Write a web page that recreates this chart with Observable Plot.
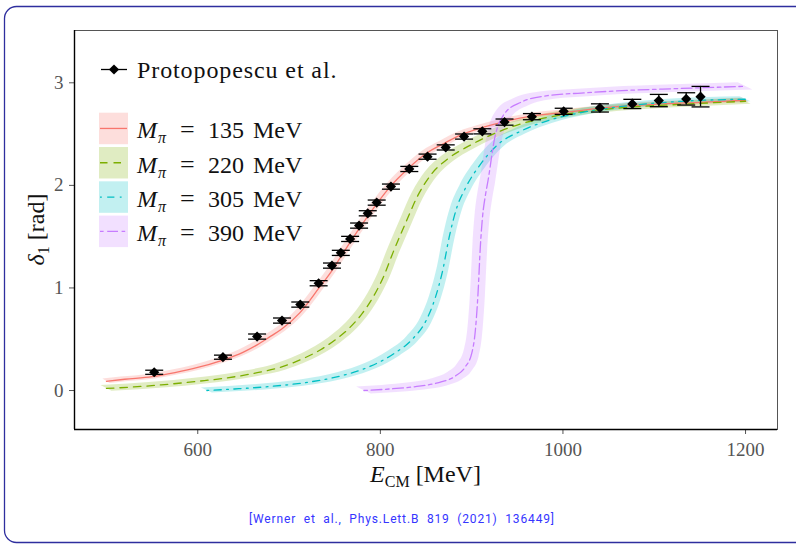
<!DOCTYPE html>
<html><head><meta charset="utf-8">
<script src="https://cdn.jsdelivr.net/npm/d3@7"></script>
<script src="https://cdn.jsdelivr.net/npm/@observablehq/plot@0.6"></script>
<style>
html,body{margin:0;padding:0;background:#fff;}
#chart{position:relative;width:796px;height:545px;overflow:hidden;}
</style></head><body><div id="chart"></div>
<script>
// ---- data ----
const xTicks = [600, 800, 1000, 1200];
const yTicks = [0, 1, 2, 3];
const pionMasses = ["135", "220", "305", "390"];
const seriesColors = ["#F8766D", "#7CAE00", "#00BFC4", "#C77CFF"];
const seriesDashes = ["none", "7.5,6", "1.8,5.4,7.2,5.4", "3.6,3.6,10.8,3.6"];
const dataLabel = "Protopopescu et al.";
const captionText = "[Werner  et  al.,  Phys.Lett.B  819  (2021)  136449]";

// Protopopescu et al. measurements
const dataE     = [552.3, 627.6, 665, 692.3, 712.3, 732.4, 747, 756.7, 766.9, 776.7, 786.2, 796, 811.6, 831.7, 851.7, 871.6, 891.7, 911.7, 936, 966, 1000.8, 1040.5, 1076, 1105, 1135, 1150.7];
const dataDelta = [0.178, 0.325, 0.526, 0.682, 0.838, 1.046, 1.218, 1.342, 1.478, 1.608, 1.728, 1.832, 1.988, 2.16, 2.28, 2.37, 2.476, 2.527, 2.617, 2.67, 2.722, 2.755, 2.794, 2.827, 2.843, 2.865];
const dataErr   = [0.02, 0.02, 0.025, 0.025, 0.025, 0.025, 0.025, 0.025, 0.025, 0.025, 0.025, 0.025, 0.025, 0.025, 0.025, 0.025, 0.025, 0.025, 0.03, 0.03, 0.03, 0.04, 0.045, 0.06, 0.06, 0.10];

// M_pi = 135 MeV
const e135 = [500, 520, 550, 575, 600, 625, 650, 665, 680, 692, 712, 732, 747, 760, 777, 796, 812, 830, 850, 870, 890, 910, 935, 965, 1000, 1050, 1100, 1150, 1200];
const d135 = [0.09, 0.11, 0.135, 0.175, 0.225, 0.29, 0.375, 0.445, 0.53, 0.60, 0.76, 0.99, 1.17, 1.35, 1.58, 1.82, 2.00, 2.16, 2.31, 2.41, 2.50, 2.56, 2.62, 2.675, 2.71, 2.76, 2.79, 2.81, 2.83];
// M_pi = 220 MeV
const e220 = [500, 530, 560, 600, 630, 660, 690, 715, 735, 750, 765, 780, 792, 803, 815, 828, 841, 856, 874, 896, 921, 954, 1000, 1056, 1129, 1200];
const d220 = [0.02, 0.035, 0.055, 0.09, 0.12, 0.165, 0.225, 0.31, 0.40, 0.49, 0.60, 0.75, 0.91, 1.10, 1.37, 1.64, 1.90, 2.11, 2.26, 2.38, 2.49, 2.60, 2.69, 2.75, 2.79, 2.82];
// M_pi = 305 MeV
const e305 = [610, 640, 680, 720, 760, 790, 815, 835, 850, 860, 868, 876, 884, 893, 910, 929, 954, 983, 1020, 1056, 1130, 1200];
const d305 = [0.0, 0.015, 0.04, 0.08, 0.15, 0.24, 0.36, 0.50, 0.68, 0.90, 1.16, 1.52, 1.79, 1.97, 2.21, 2.40, 2.53, 2.63, 2.71, 2.76, 2.82, 2.84];
// M_pi = 390 MeV
const e390 = [782, 810, 840, 865, 882, 893, 900, 904, 907, 909.5, 912, 915, 918, 925, 936, 954, 983, 1020, 1056, 1130, 1200];
const d390 = [0.0, 0.015, 0.04, 0.08, 0.14, 0.23, 0.36, 0.58, 0.95, 1.40, 1.70, 1.90, 2.05, 2.45, 2.70, 2.81, 2.875, 2.90, 2.92, 2.945, 2.966];
// uncertainty band half-widths (energy, phase)
const bandDE = [4, 6, 6, 8];
const bandDD = [0.022, 0.028, 0.025, 0.035];

// ---- build ----
const xDomain = [465, 1235];
const yDomain = [-0.38, 3.51];
const curves = [[e135, d135], [e220, d220], [e305, d305], [e390, d390]];
const serif = "'Liberation Serif', 'Times New Roman', serif";

const marks = [];
curves.forEach(([E, D], i) => {
  const rows = E.map((x, j) => ({E: x, d: D[j]}));
  marks.push(Plot.area(rows, {
    x1: r => r.E + bandDE[i], y1: r => r.d - bandDD[i],
    x2: r => r.E - bandDE[i], y2: r => r.d + bandDD[i],
    fill: seriesColors[i], fillOpacity: 0.24, curve: "monotone-x", clip: true
  }));
});
curves.forEach(([E, D], i) => {
  const rows = E.map((x, j) => ({E: x, d: D[j]}));
  marks.push(Plot.line(rows, {
    x: "E", y: "d", stroke: seriesColors[i], strokeWidth: 1.3,
    strokeDasharray: seriesDashes[i], curve: "monotone-x"
  }));
});
const pts = dataE.map((x, j) => ({E: x, d: dataDelta[j], err: dataErr[j]}));
const capSymbol = {draw(ctx) { ctx.moveTo(-9, 0); ctx.lineTo(9, 0); }};
marks.push(
  Plot.ruleX(pts, {x: "E", y1: r => r.d - r.err, y2: r => r.d + r.err, stroke: "black", strokeWidth: 1.3}),
  Plot.dot(pts, {x: "E", y: r => r.d - r.err, symbol: capSymbol, r: 1, fill: "none", stroke: "black", strokeWidth: 1.3}),
  Plot.dot(pts, {x: "E", y: r => r.d + r.err, symbol: capSymbol, r: 1, fill: "none", stroke: "black", strokeWidth: 1.3}),
  Plot.dot(pts, {x: "E", y: "d", symbol: "diamond2", r: 4.6, fill: "black", stroke: "none"}),
  Plot.frame({stroke: "#555", strokeWidth: 1}),
  Plot.ruleX([xDomain[0]], {stroke: "black", strokeWidth: 1.4}),
  Plot.ruleY([yDomain[0]], {stroke: "black", strokeWidth: 1.4})
);

const svg = Plot.plot({
  width: 796, height: 545,
  marginLeft: 74, marginRight: 19, marginTop: 30, marginBottom: 116,
  style: {fontFamily: serif, fontSize: "19px", background: "white", color: "#555"},
  x: {domain: xDomain, ticks: xTicks, tickSize: 5, tickPadding: 8, label: null, tickFormat: d3.format("d")},
  y: {domain: yDomain, ticks: yTicks, tickSize: 5, tickPadding: 6, label: null, tickFormat: d3.format("d")},
  marks
});

const s = d3.select(svg);

// border
s.append("rect").attr("x", 4.5).attr("y", 6.5).attr("width", 830).attr("height", 536)
  .attr("rx", 12).attr("fill", "none").attr("stroke", "#2e2e9e").attr("stroke-width", 1.3);

// legend
const lg = s.append("g").attr("font-family", serif).attr("fill", "#111").attr("text-anchor", "start");
lg.append("line").attr("x1", 101).attr("x2", 127).attr("y1", 69.5).attr("y2", 69.5)
  .attr("stroke", "black").attr("stroke-width", 1.3);
lg.append("path").attr("d", d3.symbol(d3.symbolDiamond2, Math.PI * 4.6 * 4.6)())
  .attr("transform", "translate(114,69.5)").attr("fill", "black");
lg.append("text").attr("x", 137).attr("y", 78).attr("font-size", 24)
  .attr("letter-spacing", 0.9).text(dataLabel);
pionMasses.forEach((m, i) => {
  const top = 112.7 + i * 34.3;
  const cy = top + 15.75;
  lg.append("rect").attr("x", 99).attr("y", top).attr("width", 29).attr("height", 31.5)
    .attr("fill", seriesColors[i]).attr("fill-opacity", 0.24);
  lg.append("line").attr("x1", 100).attr("x2", 127).attr("y1", cy).attr("y2", cy)
    .attr("stroke", seriesColors[i]).attr("stroke-width", 1.3)
    .attr("stroke-dasharray", seriesDashes[i]);
  const t = lg.append("text").attr("y", cy + 10).attr("font-size", 24);
  t.append("tspan").attr("x", 137).attr("font-style", "italic").text("M");
  t.append("tspan").attr("x", 158).attr("dy", 5).attr("font-size", 16).attr("font-style", "italic").text("π");
  t.append("tspan").attr("x", 180).attr("dy", -5).attr("font-size", 26).text("=");
  t.append("tspan").attr("x", 208).attr("word-spacing", 3).text(m + " MeV");
});

// axis titles
const xl = s.append("text").attr("x", 425.5).attr("y", 482).attr("text-anchor", "middle")
  .attr("font-family", serif).attr("font-size", 24).attr("fill", "#111");
xl.append("tspan").attr("font-style", "italic").text("E");
xl.append("tspan").attr("dy", 5).attr("font-size", 16).text("CM");
xl.append("tspan").attr("dy", -5).text(" [MeV]");

const yl = s.append("text").attr("transform", "translate(44,229.5) rotate(-90)")
  .attr("text-anchor", "middle").attr("font-family", serif).attr("font-size", 24).attr("fill", "#111");
yl.append("tspan").attr("font-style", "italic").text("δ");
yl.append("tspan").attr("dy", 5).attr("font-size", 16).text("1");
yl.append("tspan").attr("dy", -5).text(" [rad]");

// caption
s.append("text").attr("x", 401.5).attr("y", 523).attr("text-anchor", "middle")
  .attr("font-family", "'Roboto', 'DejaVu Sans', sans-serif").attr("font-size", 12)
  .attr("fill", "#3535ff").attr("textLength", 305).attr("lengthAdjust", "spacing")
  .style("white-space", "pre").text(captionText);

document.getElementById("chart").appendChild(svg);
</script></body></html>
